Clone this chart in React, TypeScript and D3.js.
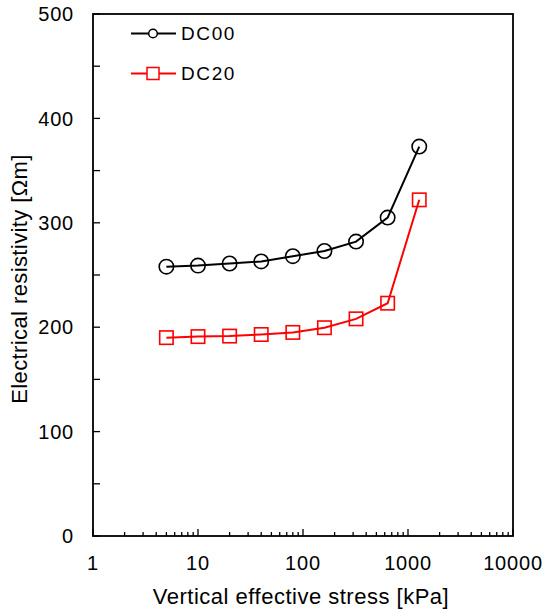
import React from "react";
import * as d3 from "d3";

// vertical effective stress [kPa]
const stress = [5, 10, 20, 40, 80, 160, 320, 640, 1280];
// electrical resistivity [Ωm]
const dc00 = [258, 259, 261, 263, 268, 273, 282, 305, 373];
const dc20 = [190, 191, 191.5, 193, 195, 199.5, 208, 223, 322];
const xTicks = [1, 10, 100, 1000, 10000];
const yTicks = [0, 100, 200, 300, 400, 500];

const W = 545;
const H = 609;
const m = { left: 93, right: 513, top: 14, bottom: 536 };

const App = () => {
  const x = d3.scaleLog().domain([1, 10000]).range([m.left, m.right]);
  const y = d3.scaleLinear().domain([0, 500]).range([m.bottom, m.top]);

  const line = d3
    .line<number>()
    .x((d, i) => x(stress[i]))
    .y((d) => y(d));

  // minor ticks 2..9 of every decade
  const minor: number[] = [];
  for (let p = 1; p < 10000; p *= 10) {
    for (let k = 2; k <= 9; k++) minor.push(p * k);
  }
  const yMinor = d3.range(0, 501, 50);

  const font = "'Liberation Sans', Arial, sans-serif";

  return (
    <svg width={W} height={H} style={{ display: "block", position: "absolute", left: 0, top: 0 }}>
      <rect width={W} height={H} fill="white" />

      {/* ticks */}
      {minor.map((v) => (
        <line key={"xm" + v} x1={x(v)} x2={x(v)} y1={m.bottom} y2={m.bottom - 4} stroke="black" strokeWidth={1.3} />
      ))}
      {xTicks.map((v) => (
        <line key={"xt" + v} x1={x(v)} x2={x(v)} y1={m.bottom} y2={m.bottom - 7} stroke="black" strokeWidth={1.3} />
      ))}
      {yMinor.map((v) => (
        <line key={"ym" + v} x1={m.left} x2={m.left + 7} y1={y(v)} y2={y(v)} stroke="black" strokeWidth={1.3} />
      ))}

      <rect
        x={m.left}
        y={m.top}
        width={m.right - m.left}
        height={m.bottom - m.top}
        fill="none"
        stroke="black"
        strokeWidth={1.8}
      />

      {/* tick labels */}
      {xTicks.map((v) => (
        <text key={"xl" + v} x={x(v)} y={570} textAnchor="middle" fontFamily={font} fontSize={20} letterSpacing={0.8}>
          {v}
        </text>
      ))}
      {yTicks.map((v) => (
        <text key={"yl" + v} x={74} y={y(v)} dy="0.36em" textAnchor="end" fontFamily={font} fontSize={20} letterSpacing={0.8}>
          {v}
        </text>
      ))}

      {/* axis titles */}
      <text x={301} y={604} textAnchor="middle" fontFamily={font} fontSize={22} letterSpacing={0.5}>
        Vertical effective stress [kPa]
      </text>
      <text
        transform={`translate(27, 279) rotate(-90)`}
        textAnchor="middle"
        fontFamily={font}
        fontSize={22}
        letterSpacing={0.4}
      >
        Electrical resistivity [Ωm]
      </text>

      {/* series */}
      <path d={line(dc00) || ""} fill="none" stroke="black" strokeWidth={2} />
      {dc00.map((v, i) => (
        <circle key={"c" + i} cx={x(stress[i])} cy={y(v)} r={7.2} fill="none" stroke="black" strokeWidth={1.6} />
      ))}
      <path d={line(dc20) || ""} fill="none" stroke="#ff0000" strokeWidth={2} />
      {dc20.map((v, i) => (
        <rect key={"s" + i} x={x(stress[i]) - 6.7} y={y(v) - 6.7} width={13.4} height={13.4} fill="none" stroke="#ff0000" strokeWidth={1.6} />
      ))}

      {/* legend */}
      <g fontFamily={font} fontSize={19} letterSpacing={1.6}>
        <line x1={131} x2={176} y1={33.5} y2={33.5} stroke="black" strokeWidth={2} />
        <circle cx={153} cy={33.5} r={4.3} fill="white" stroke="black" strokeWidth={1.5} />
        <text x={181} y={33.5} dy="0.36em">DC00</text>
        <line x1={131} x2={176} y1={73.5} y2={73.5} stroke="#ff0000" strokeWidth={2} />
        <rect x={147} y={67.5} width={12} height={12} fill="white" stroke="#ff0000" strokeWidth={1.5} />
        <text x={181} y={73.5} dy="0.36em">DC20</text>
      </g>
    </svg>
  );
};

export default App;
